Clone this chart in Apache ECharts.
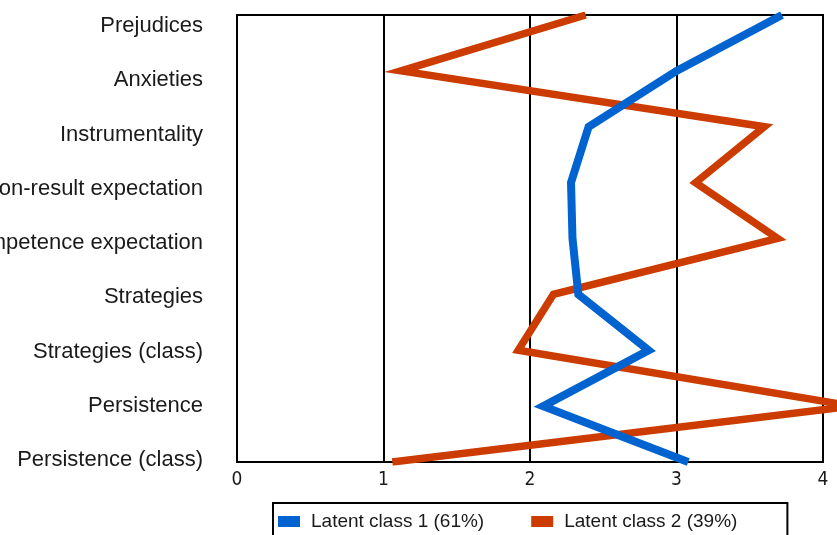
<!DOCTYPE html>
<html>
<head>
<meta charset="utf-8">
<script src="https://cdn.jsdelivr.net/npm/echarts@6/dist/echarts.min.js"></script>
<style>html,body{margin:0;padding:0;background:#fff}#c{width:837px;height:535px}</style>
</head>
<body>
<div id="c"></div>
<script>
var categories = ['Prejudices','Anxieties','Instrumentality','Action-result expectation','Competence expectation','Strategies','Strategies (class)','Persistence','Persistence (class)'];
var class1Name = 'Latent class 1 (61%)';
var class2Name = 'Latent class 2 (39%)';
var class1 = [3.72, 3.0, 2.40, 2.28, 2.29, 2.33, 2.81, 2.09, 3.08];
var class2 = [2.38, 1.12, 3.60, 3.13, 3.69, 2.16, 1.92, 4.20, 1.06];
var xTicks = [0, 4, 1];

var chart = echarts.init(document.getElementById('c'), null, {renderer:'canvas'});
var font = '"Liberation Sans", Arial, sans-serif';
chart.setOption({
  animation: false,
  backgroundColor: '#fff',
  grid: [
    {left: 237, right: 14, top: 15, bottom: 73, show: true, borderColor: '#000', borderWidth: 2, backgroundColor: 'transparent', z: 1, outerBoundsMode: 'none', containLabel: false},
    {left: 237, right: 14, top: 26, bottom: 75, show: false, outerBoundsMode: 'none', containLabel: false}
  ],
  xAxis: [
    {gridIndex: 0, type: 'value', min: xTicks[0], max: xTicks[1], interval: xTicks[2],
     axisLine: {show: true, lineStyle: {color: '#000', width: 2}},
     axisTick: {show: false},
     splitLine: {show: true, lineStyle: {color: '#000', width: 2}},
     axisLabel: {color: '#1a1a1a', fontFamily: '"Liberation Sans Narrow", "DejaVu Sans Condensed", sans-serif', fontSize: 19, margin: 9}},
    {gridIndex: 1, type: 'value', show: false, min: 0, max: 4}
  ],
  yAxis: [
    {gridIndex: 0, type: 'category', data: categories, inverse: true, boundaryGap: false,
     axisLine: {show: false}, axisTick: {show: false}, axisLabel: {show: false}, splitLine: {show: false}},
    {gridIndex: 1, type: 'category', data: categories, inverse: true, boundaryGap: false,
     axisLine: {show: false}, axisTick: {show: false}, splitLine: {show: false},
     axisLabel: {show: true, color: '#1a1a1a', fontFamily: font, fontSize: 22, margin: 34, interval: 0}}
  ],
  legend: {
    left: 273, top: 503,
    data: [class1Name, class2Name],
    icon: 'rect', itemWidth: 22, itemHeight: 11, itemGap: 47,
    borderColor: '#000', borderWidth: 2, padding: [9, 50, 14, 5],
    textStyle: {color: '#1a1a1a', fontFamily: font, fontSize: 19, padding: [0, 0, 0, 6]}
  },
  series: [
    {name: class1Name, type: 'line', xAxisIndex: 0, yAxisIndex: 0, data: class1, symbol: 'none', clip: false,
     color: '#0063cf', lineStyle: {color: '#0063cf', width: 8, join: 'miter'}, z: 3},
    {name: class2Name, type: 'line', xAxisIndex: 0, yAxisIndex: 0, data: class2, symbol: 'none', clip: false,
     color: '#cc3c00', lineStyle: {color: '#cc3c00', width: 7.5, join: 'miter'}, z: 2}
  ]
});
</script>
</body>
</html>
